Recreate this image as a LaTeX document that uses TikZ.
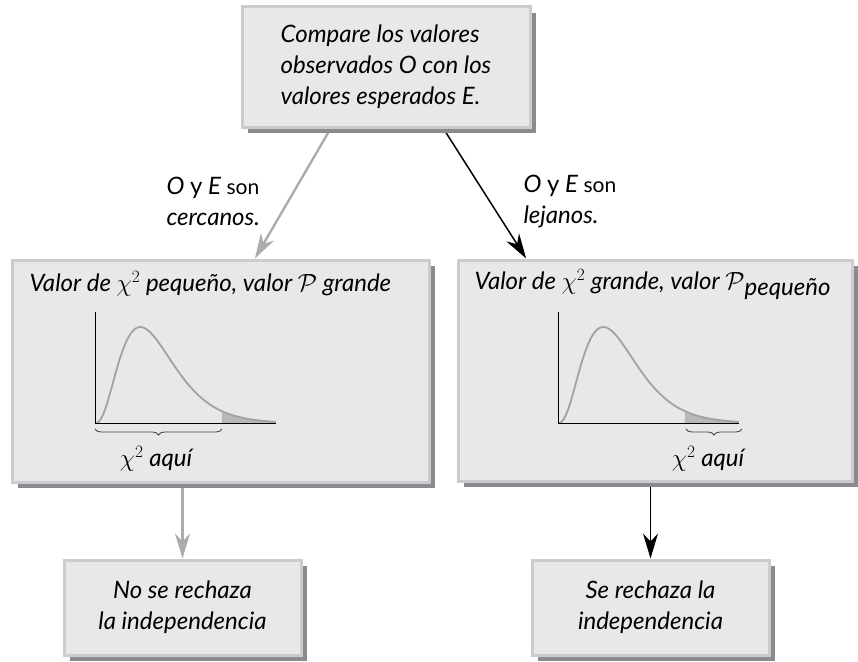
\documentclass[tikz,border=0pt]{standalone}
\usepackage{fontspec}
\setmainfont{Lato}
\usepackage{tikz}
\usetikzlibrary{positioning, arrows.meta, calc, shadows, decorations.pathreplacing, backgrounds}

\definecolor{boxfill}{RGB}{232,232,234}
\definecolor{boxrim}{RGB}{204,204,207}
\definecolor{shadowc}{RGB}{138,139,143}
\definecolor{arrowgray}{RGB}{172,172,174}
\definecolor{curvegray}{RGB}{162,162,164}
\definecolor{tailgray}{RGB}{184,184,187}

\begin{document}
\begin{tikzpicture}[
  x=1pt, y=-1pt,
  font=\fontsize{24}{31}\selectfont\itshape,
  >={Stealth[length=25pt, width=15pt, inset=8pt]},
  box/.style={draw=boxrim, line width=3pt, fill=boxfill, align=center,
    drop shadow={shadow xshift=6pt, shadow yshift=-6pt, fill=shadowc, opacity=1}},
  near/.style={->, draw=arrowgray, line width=2.4pt},
  far/.style={->, line width=1.5pt},
  curve/.style={draw=curvegray, line width=1.8pt},
  tail/.style={fill=tailgray},
  brace/.style={decorate, decoration={brace, mirror, amplitude=6pt}, line width=0.8pt, draw=black!75},
  declare function={dens(\u)=pow(\u/0.25,2.7)*exp(2.7*(1-\u/0.25));}
]
\useasboundingbox (0,0) rectangle (858,661);

% boxes
\node[box, align=left, minimum width=288pt, minimum height=120pt] (cmp) at (386,67)
  {Compare los valores\\observados O con los\\valores esperados E.};
\node[box, minimum width=417pt, minimum height=222pt] (lft) at (220.5,371) {};
\node[box, minimum width=394pt, minimum height=221pt] (rgt) at (655,370.5) {};
\node[box, minimum width=237pt, minimum height=95pt] (norej) at (182.5,607.5)
  {No se rechaza\\la independencia};
\node[box, minimum width=237pt, minimum height=95pt] (rej) at (650.5,607.5)
  {Se rechaza la\\independencia};

% titles of the two cases
\node[anchor=west] (ttlL) at (26,284) {Valor de $\chi^2$ pequeño, valor $\mathcal{P}$ grande};
\node[anchor=west] (ttlR) at (471,284) {Valor de $\chi^2$ grande, valor $\mathcal{P}$\raisebox{-6pt}{pequeño}};

% chi-square curves
\foreach \ox/\bs/\be/\lx in {95/95/222/156, 558/686/742/708} {
  \fill[tail] (\ox+127,423) -- plot[domain=0.70:1, samples=20] ({\ox+181*\x},{423-96*dens(\x)}) -- (\ox+181,423) -- cycle;
  \draw[curve] plot[domain=0.002:1, samples=90, smooth] ({\ox+181*\x},{423-96*dens(\x)});
  \draw[line width=1pt] (\ox,312) -- (\ox,423) -- (\ox+181,423);
  \draw[brace] (\bs,429) -- (\be,429);
  \node (aqui\ox) at (\lx,459) {$\chi^2$ aquí};
}

% branch labels
\node[anchor=west, align=left] (lblnear) at (163,201) {O {\upshape y} E {\upshape\fontsize{21}{31}\selectfont son}\\cercanos.};
\node[anchor=west, align=left] (lblfar) at (520,201) {O {\upshape y} E {\upshape\fontsize{21}{31}\selectfont son}\\lejanos.};

\begin{pgfonlayer}{background}
\draw[near] (cmp.228) -- (lft.73.7);
\draw[far] (cmp.313) -- (rgt.139.2);
\draw[near] (norej.north |- lft.south) -- (norej.north);
\draw[far] (rej.north |- rgt.south) -- (rej.north);
\end{pgfonlayer}
\end{tikzpicture}
\end{document}
